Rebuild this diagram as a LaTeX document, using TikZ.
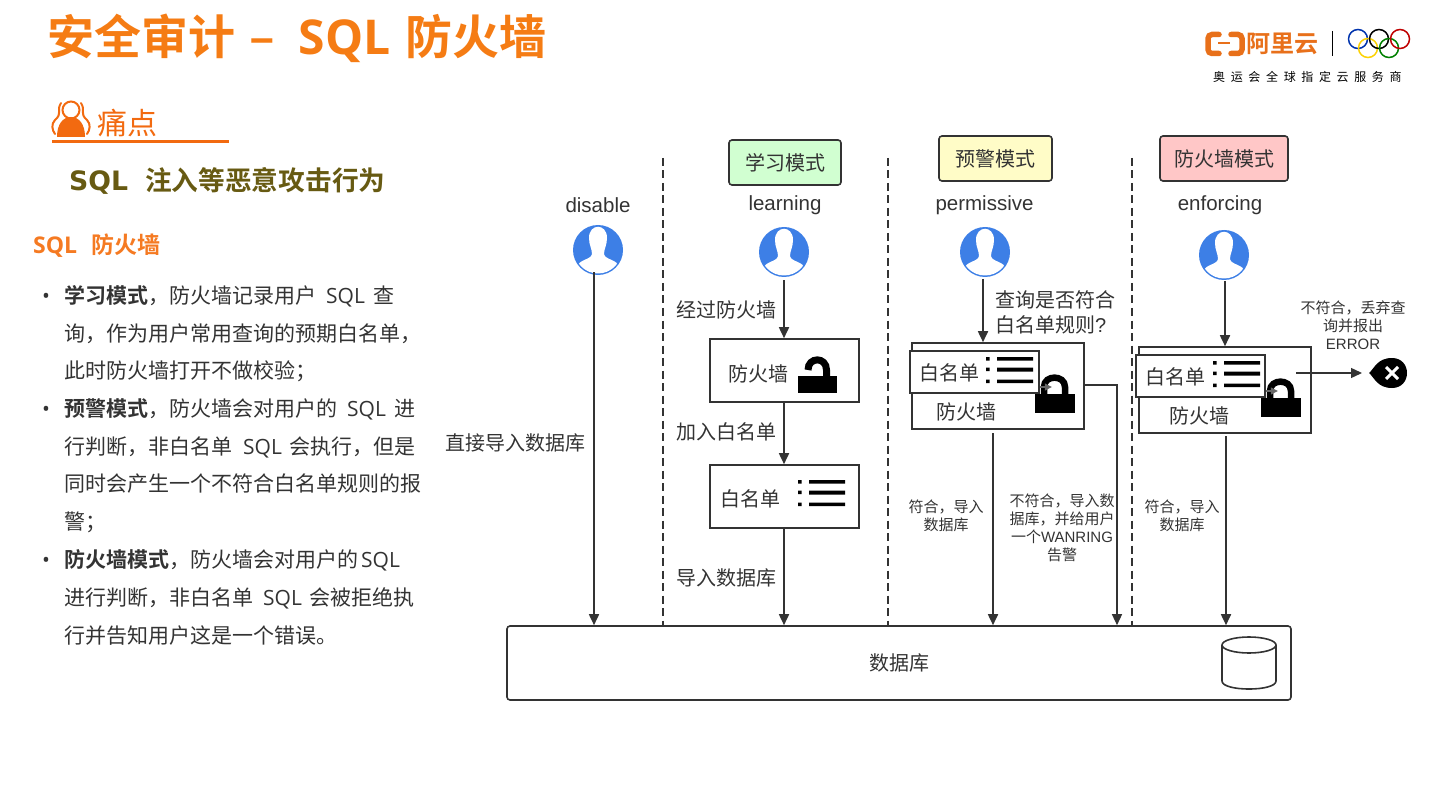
\documentclass[tikz,border=0pt]{standalone}
\usepackage{fontspec}
\setmainfont{Noto Sans CJK SC}[BoldFont={Noto Sans CJK SC Bold}]
\newfontfamily\latin{Liberation Sans}
\newfontfamily\opensans{Open Sans}[BoldFont={Open Sans Bold}]
\newfontfamily\dejavu{DejaVu Sans}
\newfontfamily\spaced[LetterSpace=47]{Noto Sans CJK SC}
\usetikzlibrary{arrows.meta,calc}
\definecolor{ink}{HTML}{333333}
\definecolor{titleor}{HTML}{F57C14}
\definecolor{painor}{HTML}{F26A10}
\definecolor{subor}{HTML}{F57A22}
\definecolor{olive}{HTML}{675A12}
\definecolor{userblue}{HTML}{3D7FE6}
\definecolor{logoor}{HTML}{E8701A}
\newcommand{\fs}[1]{\fontsize{#1}{#1}\selectfont}
\newcommand{\fsl}[2]{\fontsize{#1}{#2}\selectfont}
\newcommand{\sql}{{\opensans SQL}}
\tikzset{
  x=1pt,y=-1pt,
  txt/.style={inner sep=0pt,text=ink,font=\fs{20}},
  small/.style={inner sep=0pt,text=ink,font=\fsl{15}{18},align=center},
  eng/.style={inner sep=0pt,text=ink,font=\latin\fs{20.5}},
  body/.style={inner sep=0pt,anchor=base west,text=ink,font=\fs{21}},
  flowbox/.style={draw=ink,line width=1.6pt,fill=white,inner sep=0pt,text=ink,font=\fs{20}},
  modebox/.style={flowbox,rounded corners=3pt,minimum height=45pt},
  conn/.style={draw=ink,line width=1.7pt,-{Triangle[length=11pt,width=10pt]}},
  thin conn/.style={draw=ink,line width=1.3pt,-{Triangle[length=11pt,width=10pt]}},
  sep/.style={draw=ink,line width=1.8pt,dash pattern=on 8pt off 4.5pt},
  usernode/.style={circle,fill=userblue,minimum size=50pt,inner sep=0pt},
  mini conn/.style={draw=black!60,line width=1.2pt,-{Triangle[length=7pt,width=7pt]}},
}
\newcommand{\silhouette}[1]{%
  \begin{scope}[shift={(#1.center)}]
    \clip (0,0) circle (23.5);
    \fill[white] (-9,-12) .. controls (-9,-27) and (9,-27) .. (9,-12)
      .. controls (9,-5) and (6,-1) .. (6,4)
      .. controls (7,10) and (19,9) .. (21,17) -- (21,30) -- (-21,30) -- (-21,17)
      .. controls (-19,9) and (-7,10) .. (-6,4)
      .. controls (-6,-1) and (-9,-5) .. (-9,-12) -- cycle;
  \end{scope}}
\newcommand{\listicon}[2]{%
  \begin{scope}[shift={(#1,#2)}]
    \fill[black] (0,-1) rectangle (3.5,2.5) (0,9.5) rectangle (3.5,13) (0,21.5) rectangle (3.5,25);
    \fill[black] (11,-1) rectangle (47,2.5) (11,9.5) rectangle (47,13.5) (11,21.5) rectangle (47,25);
  \end{scope}}
\newcommand{\closedlock}[2]{%
  \begin{scope}[shift={(#1,#2)}]
    \fill[black] (0,19) rectangle (40,38);
    \draw[black,line width=6.5pt] (9,21) -- (9,12) .. controls (9,-0.5) and (30,-0.5) .. (30,12) -- (30,21);
  \end{scope}}
\begin{document}
\begin{tikzpicture}
\useasboundingbox (0,0) rectangle (1440,810);
% title
\node[anchor=base west,inner sep=0pt,text=titleor,font=\bfseries\fs{47}] (title) at (47,55) {安全审计\hspace{14pt}–\hspace{24pt}{\opensans\bfseries\fs{48}SQL}\hspace{15pt}防火墙};
% logo
\draw[logoor,line width=5.5pt,line cap=round,rounded corners=4pt] (1219,34.5) -- (1208,34.5) -- (1208,53.5) -- (1219,53.5);
\draw[logoor,line width=5.5pt,line cap=round,rounded corners=4pt] (1231,34.5) -- (1242,34.5) -- (1242,53.5) -- (1231,53.5);
\draw[logoor,line width=2pt] (1218,43.5) -- (1230,43.5);
\node[inner sep=0pt,text=logoor,font=\bfseries\fs{24}] (logotext) at (1282,44) {阿里云};
\draw[black,line width=1pt] (1332,31) -- (1332,56);
\begin{scope}[line width=1.5pt]
\draw[blue!60!black!80!cyan] (1358,39) circle (9.5);
\draw[yellow!70!orange] (1368,48) circle (9.5);
\draw[black] (1379,39) circle (9.5);
\draw[green!50!black] (1389,48) circle (9.5);
\draw[red!75!black] (1400,39) circle (9.5);
\end{scope}
\node[inner sep=0pt,anchor=west,text=black,font=\spaced\fs{12}] (logosub) at (1213,77) {奥运会全球指定云服务商};
% pain point
\begin{scope}[painor]
\draw[line width=2pt] (71,110) circle (8.5);
\fill (57,137) .. controls (57,124) and (63,117) .. (71,117) .. controls (79,117) and (85,124) .. (85,137) -- cycle;
\draw[line width=2pt,line cap=round] (61,103) .. controls (56,111) and (63,113) .. (55,120) .. controls (51,124) and (52,130) .. (55,134);
\draw[line width=2pt,line cap=round] (81,103) .. controls (86,111) and (79,113) .. (87,120) .. controls (91,124) and (90,130) .. (87,134);
\fill (52,140) rectangle (229,143);
\end{scope}
\node[anchor=base west,inner sep=0pt,text=painor,font=\fs{30}] (pain) at (97,135) {痛点};
\node[anchor=base west,inner sep=0pt,text=olive,font=\bfseries\fs{26.7}] (inj) at (69,191) {{\dejavu\bfseries SQL}\hspace{17pt}注入等恶意攻击行为};
\node[anchor=base west,inner sep=0pt,text=subor,font=\bfseries\fs{23}] (fwhead) at (33,254) {{\opensans\bfseries SQL}\hspace{14pt}防火墙};
% body
\foreach \yy in {303,416,567} \node[body,font=\opensans\fs{21}] at (42,\yy) {•};
\node[body] (b1) at (64,303) {\textbf{学习模式}，防火墙记录用户\hspace{10pt}\sql\hspace{9pt}查};
\node[body] (b2) at (64,341) {询，作为用户常用查询的预期白名单，};
\node[body] (b3) at (64,378) {此时防火墙打开不做校验；};
\node[body] (b4) at (64,416) {\textbf{预警模式}，防火墙会对用户的\hspace{10pt}\sql\hspace{9pt}进};
\node[body] (b5) at (64,454) {行判断，非白名单\hspace{11pt}\sql\hspace{8pt}会执行，但是};
\node[body] (b6) at (64,491) {同时会产生一个不符合白名单规则的报};
\node[body] (b7) at (64,529) {警；};
\node[body] (b8) at (64,567) {\textbf{防火墙模式}，防火墙会对用户的\hspace{3pt}\sql};
\node[body] (b9) at (64,605) {进行判断，非白名单\hspace{10pt}\sql\hspace{8pt}会被拒绝执};
\node[body] (b10) at (64,643) {行并告知用户这是一个错误。};
% database
\node[flowbox,rounded corners=3pt,minimum width=784pt,minimum height=74pt] (db) at (899,663) {数据库};
% separators
\coordinate (s1) at (663,158); \coordinate (s2) at (888,158); \coordinate (s3) at (1132,158);
\draw[sep] (s1) -- (s1 |- db.north);
\draw[sep] (s2) -- (s2 |- db.north);
\draw[sep] (s3) -- (s3 |- db.north);
% cylinder
\draw[draw=ink,line width=1.6pt] (1249,645) ellipse (27 and 8);
\draw[draw=ink,line width=1.6pt] (1222,645) -- (1222,681) .. controls (1222,691.7) and (1276,691.7) .. (1276,681) -- (1276,645);
% mode boxes
\node[modebox,fill=green!18!white,minimum width=112pt] (m1) at (785,162.5) {学习模式};
\node[modebox,fill=yellow!22!white,minimum width=113pt] (m2) at (995.5,158.5) {预警模式};
\node[modebox,fill=red!22!white,minimum width=128pt] (m3) at (1224,158.5) {防火墙模式};
% mode names
\node[eng] (n0) at (598,205) {disable};
\node[eng] (n1) at (785,205) {learning};
\node[eng] (n2) at (984.5,205) {permissive};
\node[eng] (n3) at (1220,205) {enforcing};
% users
\node[usernode] (u0) at (598,250) {};
\node[usernode] (u1) at (784,252) {};
\node[usernode] (u2) at (985,252) {};
\node[usernode] (u3) at (1224,255) {};
\silhouette{u0}\silhouette{u1}\silhouette{u2}\silhouette{u3}
% learning column
\node[flowbox,minimum width=149pt,minimum height=63pt] (fw1) at (784.5,370.5) {};
\node[txt,anchor=west] (fw1t) at (728,374) {防火墙};
\fill[black] (798,376) rectangle (837,393);
\draw[black,line width=7pt] (808,370) .. controls (808,356.5) and (826.5,356.5) .. (826.5,370) -- (826.5,376);
\node[flowbox,minimum width=149pt,minimum height=63pt] (wl1) at (784.5,496.5) {};
\node[txt,anchor=west] (wl1t) at (720,499) {白名单};
\listicon{798}{481}
% permissive column
\node[flowbox,minimum width=172pt,minimum height=86pt] (fw2) at (998,386) {};
\node[txt,anchor=west] (fw2t) at (936,412) {防火墙};
\closedlock{1035}{375}
\node[flowbox,minimum width=129pt,minimum height=42pt] (wl2) at (974.5,372) {};
\node[txt,anchor=west] (wl2t) at (919,373) {白名单};
\listicon{986}{358}
% enforcing column
\node[flowbox,minimum width=172pt,minimum height=86pt] (fw3) at (1225,390) {};
\node[txt,anchor=west] (fw3t) at (1169,416) {防火墙};
\closedlock{1261}{379}
\node[flowbox,minimum width=129pt,minimum height=42pt] (wl3) at (1200.5,376) {};
\node[txt,anchor=west] (wl3t) at (1145,377) {白名单};
\listicon{1213}{362}
% labels
\node[txt] (l0) at (515,443) {直接导入数据库};
\node[txt] (l1) at (726,310) {经过防火墙};
\node[txt] (l2) at (726,432) {加入白名单};
\node[txt] (l3) at (726,578) {导入数据库};
\node[txt,align=left,anchor=north west,font=\fsl{20}{25}] (l4) at (995,290) {查询是否符合\\白名单规则{\latin ?}};
\node[small] (l5) at (946,516) {符合，导入\\数据库};
\node[small] (l6) at (1062,528) {不符合，导入数\\据库，并给用户\\一个{\latin WANRING}\\告警};
\node[small] (l7) at (1182,516) {符合，导入\\数据库};
\node[small] (l8) at (1353,325) {不符合，丢弃查\\询并报出\\{\latin ERROR}};
% connectors
\draw[conn] ([xshift=-4pt,yshift=3pt]u0.south) -- ($(db.north)+(-305,0)$);
\draw[conn] ([yshift=-3pt]u1.south) -- (fw1.north -| u1);
\draw[conn] (fw1.south -| u1) -- (wl1.north -| u1);
\draw[conn] (wl1.south -| u1) -- (db.north -| u1);
\coordinate (p1) at (983,279);
\draw[conn] (p1) -- (p1 |- fw2.north);
\coordinate (p2) at (993,433);
\draw[conn] (p2) -- (p2 |- db.north);
\coordinate (p3) at (1117,385);
\draw[thin conn] (fw2.east |- p3) -- (p3) -- (p3 |- db.north);
\coordinate (e1) at (1225,281);
\draw[conn] (e1) -- (e1 |- fw3.north);
\coordinate (e2) at (1226,436);
\draw[conn] (e2) -- (e2 |- db.north);
\coordinate (e3) at (1296,373);
\coordinate (e4) at (1362,373);
\draw[thin conn] (e3) -- (e4);
\draw[mini conn] ([yshift=-15pt]wl2.east) -- ++(12,0);
\draw[mini conn] ([yshift=-15pt]wl3.east) -- ++(12,0);
% error mark
\fill[black] (1369,373) .. controls (1374,369) and (1377,358) .. (1392,358) .. controls (1412,358) and (1412,388) .. (1392,388) .. controls (1377,388) and (1374,377) .. (1369,373) -- cycle;
\draw[white,line width=3pt] (1386,367) -- (1398,379) (1398,367) -- (1386,379);
\end{tikzpicture}
\end{document}
